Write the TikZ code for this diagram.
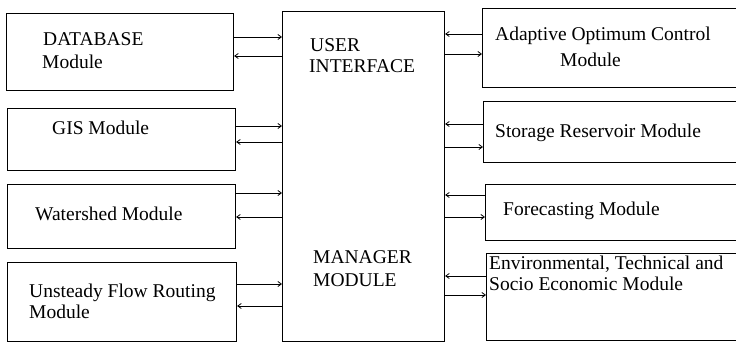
\documentclass[tikz,border=0pt]{standalone}
\usepackage{fontspec}
\setmainfont{Liberation Serif}
\usetikzlibrary{arrows.meta}
\begin{document}
\begin{tikzpicture}[x=1pt,y=-1pt,
  box/.style={draw,line width=1.1pt,anchor=north west,inner sep=0pt},
  lbl/.style={anchor=base west,inner sep=0pt,font=\fontsize{19.5}{24}\selectfont},
  conn/.style={line width=0.8pt,-{Straight Barb[length=3.5pt,width=5pt]}}]
\useasboundingbox (0,0) rectangle (736,342);
\clip (0,0) rectangle (736,342);
% boxes
\node[box,minimum width=227pt,minimum height=77pt] (db) at (6,13) {};
\node[box,minimum width=228pt,minimum height=62pt] (gis) at (7,108) {};
\node[box,minimum width=228pt,minimum height=64pt] (ws) at (7,184) {};
\node[box,minimum width=229pt,minimum height=79pt] (uf) at (7,262) {};
\node[box,minimum width=162pt,minimum height=330pt] (ui) at (282,11) {};
\node[box,minimum width=260pt,minimum height=79pt] (aoc) at (482,8) {};
\node[box,minimum width=260pt,minimum height=61pt] (sr) at (483,101) {};
\node[box,minimum width=260pt,minimum height=56pt] (fc) at (485,184) {};
\node[box,minimum width=260pt,minimum height=87pt] (env) at (486,253) {};
% texts
\node[lbl] (t1) at (43,46) {DATABASE};
\node[lbl] (t2) at (42,69) {Module};
\node[lbl] (t3) at (52,135) {GIS Module};
\node[lbl] (t4) at (35,220) {Watershed Module};
\node[lbl] (t5) at (29,297) {Unsteady Flow Routing};
\node[lbl] (t6) at (29,318) {Module};
\node[lbl] (t7) at (310,52) {USER};
\node[lbl] (t8) at (309,73) {INTERFACE};
\node[lbl] (t9) at (313,263) {MANAGER};
\node[lbl] (t10) at (313,286) {MODULE};
\node[lbl] (t11) at (495,41) {Adaptive Optimum Control};
\node[lbl] (t12) at (560,67) {Module};
\node[lbl] (t13) at (495,138) {Storage Reservoir Module};
\node[lbl] (t14) at (503,215) {Forecasting Module};
\node[lbl] (t15) at (489,269) {Environmental, Technical and};
\node[lbl] (t16) at (489,290) {Socio Economic Module};
% connectors left
\draw[conn] (db.east |- 0,37) -- (ui.west |- 0,37);
\draw[conn] (ui.west |- 0,56) -- (db.east |- 0,56);
\draw[conn] (gis.east |- 0,126) -- (ui.west |- 0,126);
\draw[conn] (ui.west |- 0,142) -- (gis.east |- 0,142);
\draw[conn] (ws.east |- 0,193) -- (ui.west |- 0,193);
\draw[conn] (ui.west |- 0,217) -- (ws.east |- 0,217);
\draw[conn] (uf.east |- 0,284) -- (ui.west |- 0,284);
\draw[conn] (ui.west |- 0,306) -- (uf.east |- 0,306);
% connectors right
\draw[conn] (aoc.west |- 0,34) -- (ui.east |- 0,34);
\draw[conn] (ui.east |- 0,54) -- (aoc.west |- 0,54);
\draw[conn] (sr.west |- 0,124) -- (ui.east |- 0,124);
\draw[conn] (ui.east |- 0,147) -- (sr.west |- 0,147);
\draw[conn] (fc.west |- 0,195) -- (ui.east |- 0,195);
\draw[conn] (ui.east |- 0,217) -- (fc.west |- 0,217);
\draw[conn] (env.west |- 0,276) -- (ui.east |- 0,276);
\draw[conn] (ui.east |- 0,295) -- (env.west |- 0,295);
\end{tikzpicture}
\end{document}
